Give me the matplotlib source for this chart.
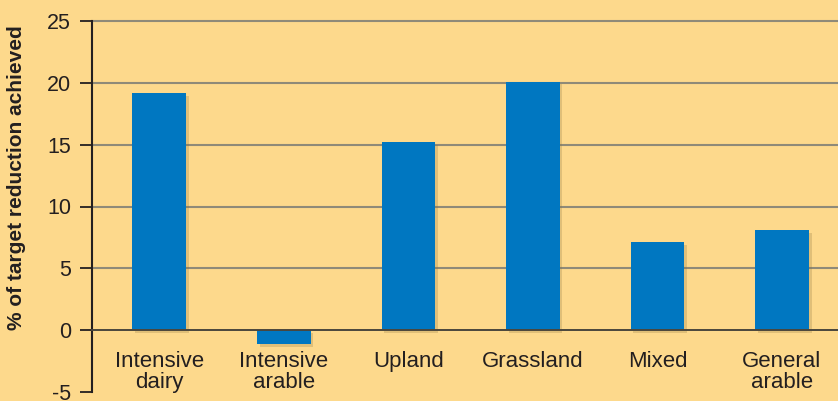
import matplotlib

matplotlib.use("Agg")

import matplotlib.pyplot as plt
import matplotlib.patheffects as pe

categories = ["Intensive\ndairy", "Intensive\narable", "Upland", "Grassland", "Mixed", "General\narable"]
values = [19.2, -1.1, 15.2, 20.1, 7.1, 8.1]
y_ticks = [-5, 0, 5, 10, 15, 20, 25]

BG = "#FDD98C"
BAR = "#0077C1"
INK = "#231f20"

plt.rcParams["font.family"] = ["Liberation Sans", "DejaVu Sans"]

fig = plt.figure(figsize=(8.38, 4.01), dpi=100, facecolor=BG)
ax = fig.add_axes([92 / 838, 9 / 401, 746 / 838, 371 / 401])
ax.set_facecolor(BG)

x = list(range(len(categories)))
bars = ax.bar(x, values, width=0.43, color=BAR, zorder=3)
for b in bars:
    b.set_path_effects([
        pe.SimplePatchShadow(offset=(2, -2), shadow_rgbFace="#8a7440", alpha=0.25),
        pe.Normal(),
    ])

for t in y_ticks:
    if t == -5:
        continue
    ax.axhline(t, color="#4a463c" if t == 0 else "#8f8a78", lw=1.4 if t == 0 else 1.5,
               zorder=2 if t != 0 else 4, clip_on=False)

for xi, lab in zip(x, categories):
    ax.text(xi, -1.65, lab, ha="center", va="top", fontsize=16, color=INK,
            linespacing=1.0, zorder=5)

ax.set_xlim(-0.54, 5.45)
ax.set_ylim(-5, 25)
ax.set_yticks(y_ticks)
ax.set_yticklabels([str(t) for t in y_ticks], fontsize=15.5, color=INK)
ax.set_xticks([])
ax.tick_params(axis="y", length=9, width=1.3, color=INK, pad=6)

for side in ["top", "right", "bottom"]:
    ax.spines[side].set_visible(False)
ax.spines["left"].set_color(INK)
ax.spines["left"].set_linewidth(1.5)

fig.text(17 / 838, 1 - 178 / 401, "% of target reduction achieved", rotation=90,
         ha="center", va="center", fontsize=15, fontweight="bold", color=INK)

fig.savefig("out.png", dpi=100, facecolor=BG)
